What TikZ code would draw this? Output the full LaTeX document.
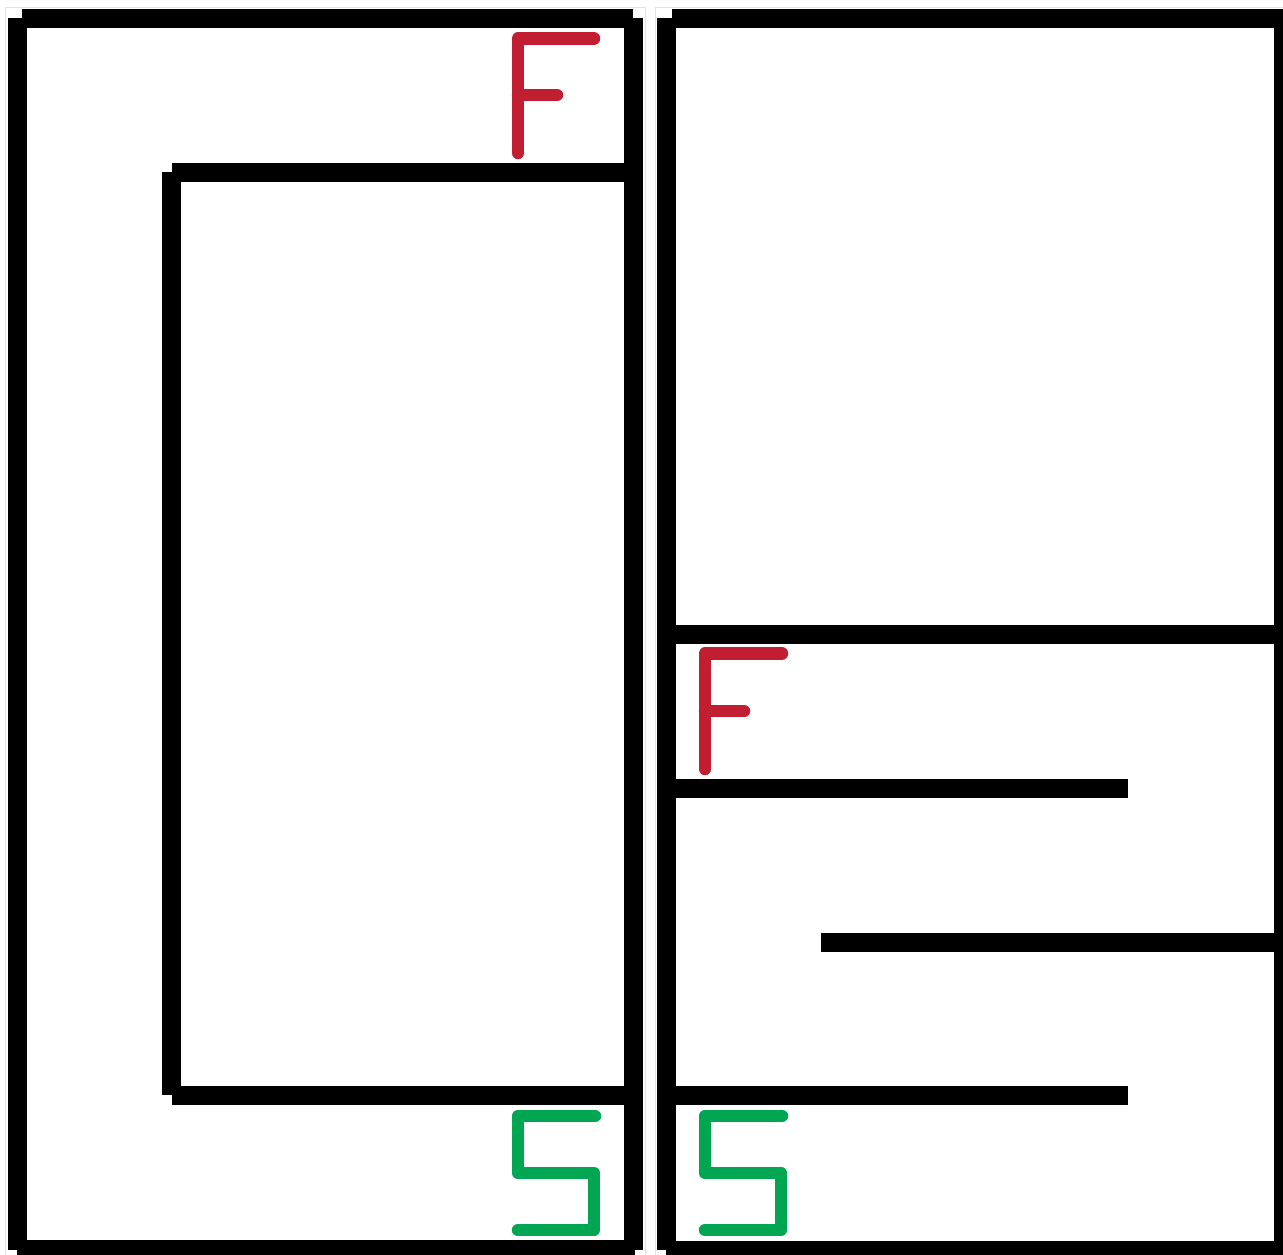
\documentclass[tikz,border=0pt]{standalone}
\definecolor{mazered}{RGB}{194,30,50}
\definecolor{mazegreen}{RGB}{0,166,81}
\definecolor{faint}{RGB}{225,225,225}
\tikzset{
  wall/.style={line width=19pt, line cap=butt, black},
  letterred/.style={line width=12.5pt, line cap=round, line join=round, mazered},
  lettergreen/.style={line width=12.5pt, line cap=round, line join=round, mazegreen},
  panelborder/.style={line width=1pt, faint}
}
\begin{document}
\begin{tikzpicture}[x=1pt,y=-1pt]
\useasboundingbox (0,0) rectangle (1283,1254);
\clip (0,0) rectangle (1283,1254);
\fill[white] (0,0) rectangle (1283,1254);
% faint panel borders
\draw[panelborder] (5.5,7.5) rectangle (645,1260);
\draw[panelborder] (655,7.5) rectangle (1290,1260);
% left panel outer walls
\draw[wall] (17,18) -- (17,1250);
\draw[wall] (22,18.5) -- (633,18.5);
\draw[wall] (633.5,18) -- (633.5,1250);
\draw[wall] (17,1249.5) -- (635,1249.5);
% left panel inner walls
\draw[wall] (172,172) -- (633,172);
\draw[wall] (171,172) -- (171,1095);
\draw[wall] (172,1095) -- (633,1095);
% right panel outer walls
\draw[wall] (666,18) -- (666,1250);
\draw[wall] (672,18.5) -- (1290,18.5);
\draw[wall] (1283.5,18) -- (1283.5,1260);
\draw[wall] (666,1250) -- (1290,1250);
% right panel inner walls
\draw[wall] (666,634) -- (1283,634);
\draw[wall] (666,788) -- (1128,788);
\draw[wall] (821,942.5) -- (1283,942.5);
\draw[wall] (666,1095.5) -- (1128,1095.5);
% F marks (finish)
\draw[letterred] (594,38.5) -- (518,38.5) -- (518,153);
\draw[letterred] (518,95) -- (557,95);
\draw[letterred] (782,653.5) -- (705,653.5) -- (705,769);
\draw[letterred] (705,711) -- (744,711);
% S marks (start)
\draw[lettergreen] (595,1116) -- (518,1116) -- (518,1173) -- (594,1173) -- (594,1230) -- (518,1230);
\draw[lettergreen] (782,1116) -- (705,1116) -- (705,1173) -- (781,1173) -- (781,1230) -- (705,1230);
\end{tikzpicture}
\end{document}
